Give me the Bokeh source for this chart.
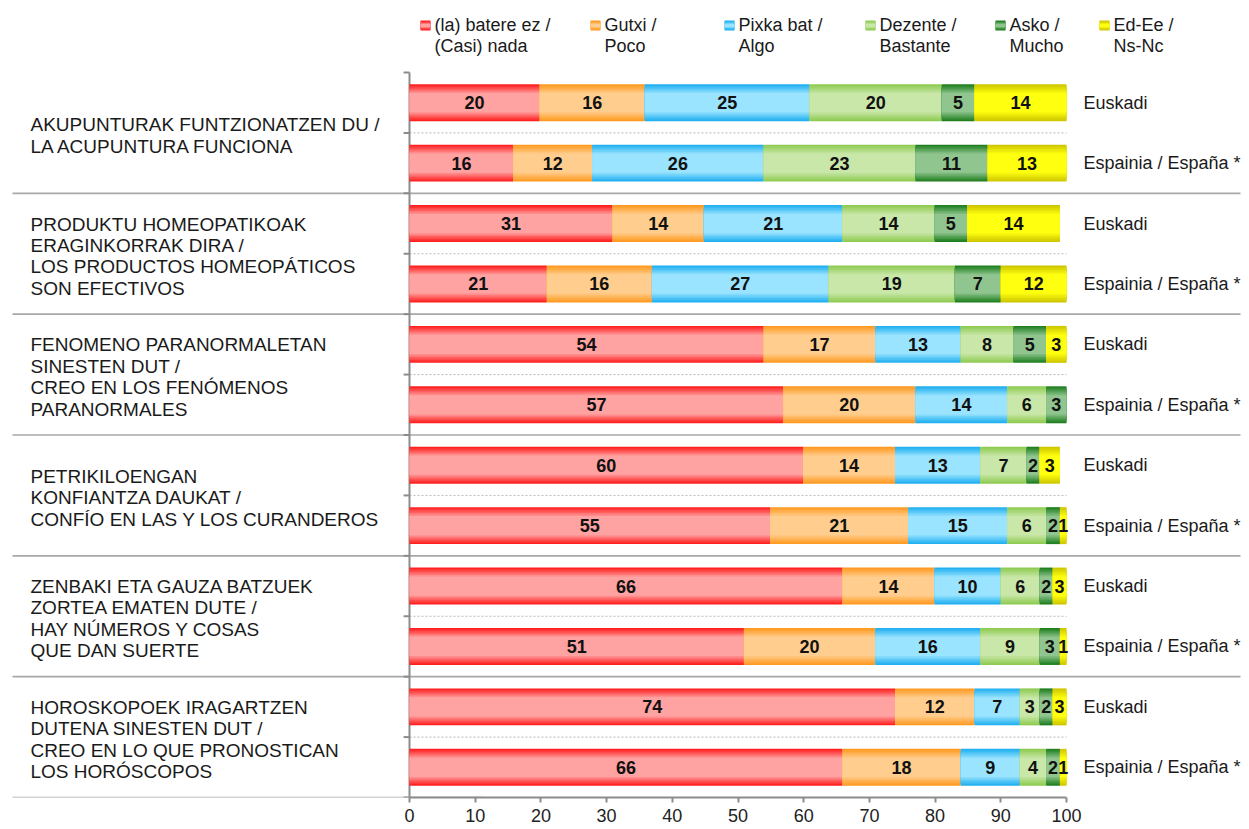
import numpy as np
from bokeh.plotting import figure
from bokeh.models import Range1d, FixedTicker, ColumnDataSource
from bokeh.core.properties import value
from bokeh.embed import file_html
from bokeh.resources import INLINE

# ---------------- data ----------------
questions = [
    "AKUPUNTURAK FUNTZIONATZEN DU /\nLA ACUPUNTURA FUNCIONA",
    "PRODUKTU HOMEOPATIKOAK\nERAGINKORRAK DIRA /\nLOS PRODUCTOS HOMEOPÁTICOS\nSON EFECTIVOS",
    "FENOMENO PARANORMALETAN\nSINESTEN DUT /\nCREO EN LOS FENÓMENOS\nPARANORMALES",
    "PETRIKILOENGAN\nKONFIANTZA DAUKAT /\nCONFÍO EN LAS Y LOS CURANDEROS",
    "ZENBAKI ETA GAUZA BATZUEK\nZORTEA EMATEN DUTE /\nHAY NÚMEROS Y COSAS\nQUE DAN SUERTE",
    "HOROSKOPOEK IRAGARTZEN\nDUTENA SINESTEN DUT /\nCREO EN LO QUE PRONOSTICAN\nLOS HORÓSCOPOS",
]
regions = ["Euskadi", "Espainia / España *"]

series_names = ["(la) batere ez /\n(Casi) nada", "Gutxi /\nPoco", "Pixka bat /\nAlgo",
                "Dezente /\nBastante", "Asko /\nMucho", "Ed-Ee /\nNs-Nc"]

# bar widths (as drawn), rows: Q1 Euskadi, Q1 España, Q2 Euskadi, ...
nada     = [19.8, 15.8, 30.9, 20.9, 53.9, 56.9, 59.9, 54.9, 65.9, 50.9, 73.9, 65.9]
poco     = [16.0, 12.0, 13.9, 16.0, 17.0, 20.1, 14.0, 21.0, 14.0, 20.0, 12.1, 18.0]
algo     = [25.1, 26.1, 21.1, 26.9, 13.0, 14.0, 13.0, 15.1, 10.1, 16.0, 6.9, 9.0]
bastante = [20.1, 23.1, 14.0, 19.2, 8.0, 5.9, 7.0, 5.9, 5.9, 9.0, 3.0, 4.0]
mucho    = [5.0, 11.0, 5.0, 7.0, 5.0, 3.1, 2.0, 2.1, 2.0, 3.1, 2.0, 2.1]
nsnc     = [14.0, 12.0, 14.1, 10.0, 3.1, 0.0, 3.1, 1.0, 2.1, 1.0, 2.1, 1.0]

# printed labels
lab_nada     = ["20", "16", "31", "21", "54", "57", "60", "55", "66", "51", "74", "66"]
lab_poco     = ["16", "12", "14", "16", "17", "20", "14", "21", "14", "20", "12", "18"]
lab_algo     = ["25", "26", "21", "27", "13", "14", "13", "15", "10", "16", "7", "9"]
lab_bastante = ["20", "23", "14", "19", "8", "6", "7", "6", "6", "9", "3", "4"]
lab_mucho    = ["5", "11", "5", "7", "5", "3", "2", "2", "2", "3", "2", "2"]
lab_nsnc     = ["14", "13", "14", "12", "3", "", "3", "1", "3", "1", "3", "1"]

x_ticks = [0, 10, 20, 30, 40, 50, 60, 70, 80, 90, 100]

# ---------------- style ----------------
edge_colors = ["#FF2020", "#FF9A22", "#22B0F0", "#8FCB52", "#207F20", "#CFC800"]
mid_colors  = ["#FFA2A2", "#FFCE8E", "#9AE4FF", "#C9E7A9", "#90C590", "#FFFF10"]
FONT = value("Liberation Sans")
TXT = "#1a1a1a"

PXX = 6.57            # px per x unit
X0 = 409              # px of x=0
PXY = 725 / 12.0      # px per y unit
W, FH = 1249, 797
x_start = -X0 / PXX
x_end = (W - X0) / PXX
y_top = 12 + 72 / PXY
BAR_H = 0.612


def px2x(px):
    return (px - X0) / PXX


def px2y(py):
    return 12 + (72 - py) / PXY


def lerp(c1, c2, t):
    a = [int(c1[i:i + 2], 16) for i in (1, 3, 5)]
    b = [int(c2[i:i + 2], 16) for i in (1, 3, 5)]
    return "#%02x%02x%02x" % tuple(int(round(a[k] + (b[k] - a[k]) * t)) for k in range(3))


p = figure(frame_width=W, frame_height=FH,
           x_range=Range1d(x_start, x_end), y_range=Range1d(0, y_top),
           y_axis_location=None, output_backend="svg", toolbar_location=None,
           min_border_left=0, min_border_right=0, min_border_top=0, min_border_bottom=0)
p.outline_line_color = None
p.grid.visible = False
p.background_fill_color = "white"

ys = [11.5 - i for i in range(12)]

# separators
sep_y = [10, 8, 6, 4, 2]
p.segment(x0=[px2x(12)] * 5, y0=sep_y, x1=[px2x(1240)] * 5, y1=sep_y,
          line_color="#a8a8a8", line_width=1.6)
p.segment(x0=[px2x(12)], y0=[0], x1=[px2x(483)], y1=[0], line_color="#a8a8a8", line_width=1.6)
dot_y = [11, 9, 7, 5, 3, 1]
p.segment(x0=[0] * 6, y0=dot_y, x1=[100] * 6, y1=dot_y,
          line_color="#b8b8b8", line_width=1, line_dash="2 2")

# left axis
p.segment(x0=[0], y0=[0], x1=[0], y1=[12], line_color="#8c8c8c", line_width=2)
ty = list(range(13))
p.segment(x0=[-0.9] * 13, y0=ty, x1=[0] * 13, y1=ty, line_color="#8c8c8c", line_width=2)

# bars
vals = [nada, poco, algo, bastante, mucho, nsnc]
labs = [lab_nada, lab_poco, lab_algo, lab_bastante, lab_mucho, lab_nsnc]
cum = np.zeros(12)
NL = 7
for s in range(6):
    v = np.array(vals[s])
    left = cum.copy()
    right = cum + v
    cum = right
    src = ColumnDataSource(dict(y=ys, left=left, right=right, xc=(left + right) / 2, lab=labs[s]))
    for k in range(NL):
        frac = 1 - k * 0.08
        t = k / (NL - 1)
        col = lerp(edge_colors[s], mid_colors[s], t)
        p.hbar(y="y", left="left", right="right", height=BAR_H * frac, source=src,
               fill_color=col, line_color=None)
    p.text(x="xc", y="y", text="lab", source=src, text_align="center", text_baseline="middle",
           text_font=FONT, text_font_style="bold", text_font_size="18px", text_color="#111111")

# region labels (right)
p.text(x=[px2x(1083)] * 12, y=ys, text=regions * 6, text_align="left", text_baseline="middle",
       text_font=FONT, text_font_size="18px", text_color=TXT)

# question labels (left)
qy = [11 - 2 * g - 0.04 for g in range(6)]
p.text(x=[px2x(30)] * 6, y=qy, text=questions, text_align="left", text_baseline="middle",
       text_font=FONT, text_font_size="19px", text_color=TXT, text_line_height=1.02)

# legend
leg_sq = [420, 590, 724, 865, 995, 1099]
leg_y1 = px2y(25)
for s in range(6):
    for k in range(4):
        t = k / 3
        col = lerp(edge_colors[s], mid_colors[s], t)
        p.rect(x=[px2x(leg_sq[s] + 5)], y=[leg_y1], width=10, height=10 - 2.4 * k,
               width_units="screen", height_units="screen", fill_color=col, line_color=None)
p.text(x=[px2x(xx + 14) for xx in leg_sq], y=[leg_y1] * 6, text=series_names,
       text_align="left", text_baseline="top", y_offset=-11,
       text_font=FONT, text_font_size="18px", text_color=TXT, text_line_height=1.06)

# x axis
ax = p.xaxis[0]
ax.ticker = FixedTicker(ticks=x_ticks)
ax.bounds = (0, 100)
ax.axis_line_color = "#8c8c8c"
ax.axis_line_width = 2
ax.major_tick_line_color = "#8c8c8c"
ax.major_tick_line_width = 2
ax.major_tick_out = 5
ax.major_tick_in = 0
ax.minor_tick_out = 0
ax.minor_tick_in = 0
ax.major_label_standoff = 6
ax.major_label_text_font = "Liberation Sans"
ax.major_label_text_font_size = "18px"
ax.major_label_text_color = "#222222"

open("out.html", "w").write(file_html(p, INLINE))
